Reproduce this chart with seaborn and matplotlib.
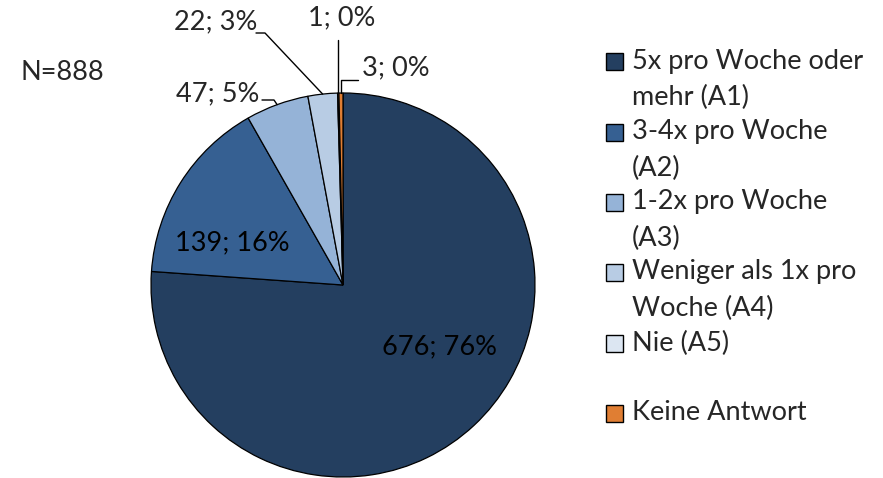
import numpy as np
import matplotlib
matplotlib.use("Agg")
import matplotlib.pyplot as plt
import seaborn as sns
from matplotlib.patches import Rectangle

# data
categories = ["5x pro Woche oder\nmehr (A1)", "3-4x pro Woche\n(A2)", "1-2x pro Woche\n(A3)",
              "Weniger als 1x pro\nWoche (A4)", "Nie (A5)", "Keine Antwort"]
counts = [676, 139, 47, 22, 1, 3]
percents = [76, 16, 5, 3, 0, 0]
colors = ["#243F60", "#366092", "#95B3D7", "#B8CCE4", "#DCE6F2", "#E07E33"]
n_total = 888

sns.set_theme(style="white")
plt.rcParams["font.family"] = ["Lato", "DejaVu Sans"]
FS = 19.5

W, H = 883, 478
CX, CY, R = 343, 285, 192

fig = plt.figure(figsize=(W / 100, H / 100), dpi=100)
ax = fig.add_axes([0, 0, 1, 1])

wedges, _ = ax.pie(counts, colors=colors, startangle=90, counterclock=False, radius=1,
                   wedgeprops=dict(edgecolor="black", linewidth=0.9))
# pie() resets the limits, so set them afterwards (1 unit = R pixels)
ax.set_xlim(-CX / R, (W - CX) / R)
ax.set_ylim(-(H - CY) / R, CY / R)
ax.axis("off")


def px(x, y):
    return (x - CX) / R, (CY - y) / R


labels = [f"{c}; {p}%" for c, p in zip(counts, percents)]

# mid angles of each wedge
mids = [np.deg2rad((w.theta1 + w.theta2) / 2) for w in wedges]
edge = [(np.cos(a), np.sin(a)) for a in mids]

# inside labels
ax.text(*px(440, 347), labels[0], fontsize=FS, ha="center", va="center", color="black")
ax.text(*px(232, 243), labels[1], fontsize=FS, ha="center", va="center", color="black")

# outside labels with leader lines
ex, ey = edge[2]
ax.plot([ex, px(274, 100)[0], px(262, 100)[0]], [ey, px(274, 100)[1], px(262, 100)[1]],
        color="black", lw=1)
ax.text(*px(259, 94), labels[2], fontsize=FS, ha="right", va="center")

ex, ey = edge[3]
ax.plot([ex, px(265, 33)[0], px(256, 33)[0]], [ey, px(265, 33)[1], px(256, 33)[1]],
        color="black", lw=1)
ax.text(*px(257, 22), labels[3], fontsize=FS, ha="right", va="center")

ex, ey = edge[4]
ax.plot([ex, ex], [ey, px(0, 40)[1]], color="black", lw=1)
ax.text(*px(342, 18), labels[4], fontsize=FS, ha="center", va="center")

ex, ey = edge[5]
ax.plot([ex, ex, px(358, 0)[0]], [ey, px(0, 80)[1], px(0, 80)[1]], color="black", lw=1)
ax.text(*px(362, 68), labels[5], fontsize=FS, ha="left", va="center")

fig.text(62 / W, 1 - 72 / H, f"N={n_total}", fontsize=FS, ha="center", va="center")

# legend
entry_y = [61, 132, 202, 272, 343, 413]
for lab, col, y in zip(categories, colors, entry_y):
    fig.patches.append(Rectangle((606 / W, 1 - (y + 8.5) / H), 17 / W, 17 / H,
                                 transform=fig.transFigure, facecolor=col,
                                 edgecolor="black", linewidth=1))
    for i, line in enumerate(lab.split("\n")):
        fig.text(632 / W, 1 - (y + 36 * i) / H, line, fontsize=FS, ha="left", va="center")

fig.savefig("out.png", dpi=100)
